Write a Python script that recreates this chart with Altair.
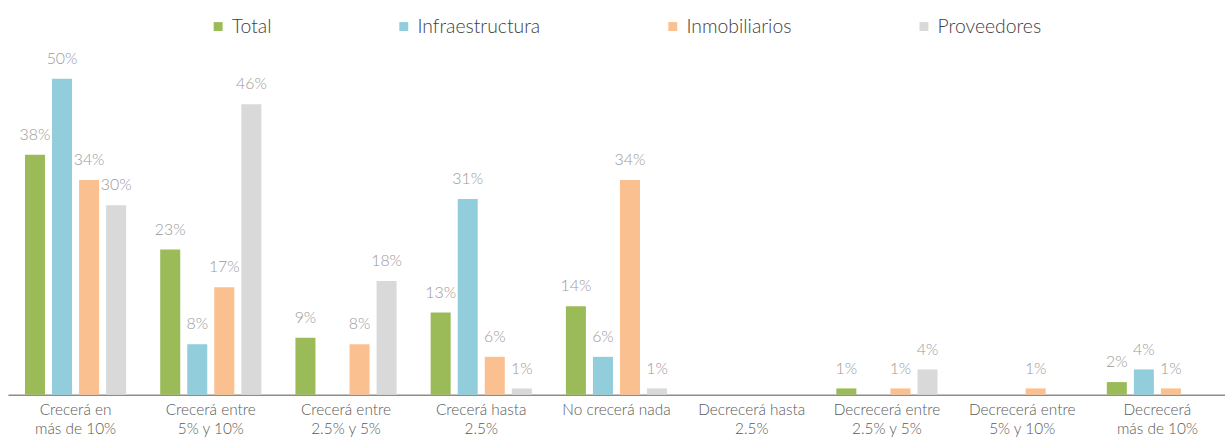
import altair as alt
import pandas as pd

categories = [
    "Crecerá en|más de 10%",
    "Crecerá entre|5% y 10%",
    "Crecerá entre|2.5% y 5%",
    "Crecerá hasta|2.5%",
    "No crecerá nada",
    "Decrecerá hasta|2.5%",
    "Decrecerá entre|2.5% y 5%",
    "Decrecerá entre|5% y 10%",
    "Decrecerá|más de 10%",
]
series = ["Total", "Infraestructura", "Inmobiliarios", "Proveedores"]
total = [38, 23, 9, 13, 14, 0, 1, 0, 2]
infraestructura = [50, 8, 0, 31, 6, 0, 0, 0, 4]
inmobiliarios = [34, 17, 8, 6, 34, 0, 1, 1, 1]
proveedores = [30, 46, 18, 1, 1, 0, 4, 0, 0]
colors = ["#9BBB59", "#92CDDC", "#FAC090", "#D9D9D9"]

rows = []
for s, vals in zip(series, [total, infraestructura, inmobiliarios, proveedores]):
    for c, v in zip(categories, vals):
        rows.append({"categoria": c, "serie": s, "valor": v})
df = pd.DataFrame(rows)

x = alt.X(
    "categoria:N",
    sort=categories,
    title=None,
    scale=alt.Scale(paddingInner=0.2, paddingOuter=0.1),
    axis=alt.Axis(
        labelExpr="split(datum.label, '|')",
        labelAngle=0,
        labelFontSize=15.5,
        labelColor="#595959",
        labelFont="Lato",
        labelFontWeight=300,
        labelLineHeight=19,
        labelPadding=8,
        domainColor="#8c8c8c",
        domainWidth=1.5,
        ticks=False,
        labelBaseline="top",
    ),
)
xoff = alt.XOffset("serie:N", sort=series, scale=alt.Scale(paddingInner=0.26, paddingOuter=0.13))
y = alt.Y("valor:Q", axis=None, scale=alt.Scale(domain=[0, 55]))
color = alt.Color(
    "serie:N",
    sort=series,
    scale=alt.Scale(domain=series, range=colors),
    legend=alt.Legend(
        orient="none",
        legendX=202,
        legendY=-31,
        direction="horizontal",
        title=None,
        symbolType="square",
        symbolSize=81,
        symbolStrokeWidth=0,
        labelFontSize=19.5,
        labelFont="Lato",
        labelFontWeight=300,
        labelColor="#404040",
        labelOffset=4,
        columnPadding=123,
    ),
)

bars = alt.Chart(df).mark_bar().encode(x=x, xOffset=xoff, y=y, color=color)

labels = (
    alt.Chart(df)
    .transform_filter("datum.valor > 0")
    .transform_calculate(etiqueta="datum.valor + '%'")
    .mark_text(dy=-20, fontSize=16, font="Lato", fontWeight=300, color="#9a9a9a")
    .encode(x=x, xOffset=xoff, y=y, text="etiqueta:N")
)

chart = (
    alt.layer(bars, labels)
    .properties(
        width=1226,
        height=350,
        background="white",
        autosize=alt.AutoSizeParams(type="none"),
        padding={"left": 8, "top": 46, "right": 0, "bottom": 47},
    )
    .configure_view(strokeWidth=0, stroke="transparent")
)

chart.save("out.html", embed_options={"renderer": "svg", "actions": False})
